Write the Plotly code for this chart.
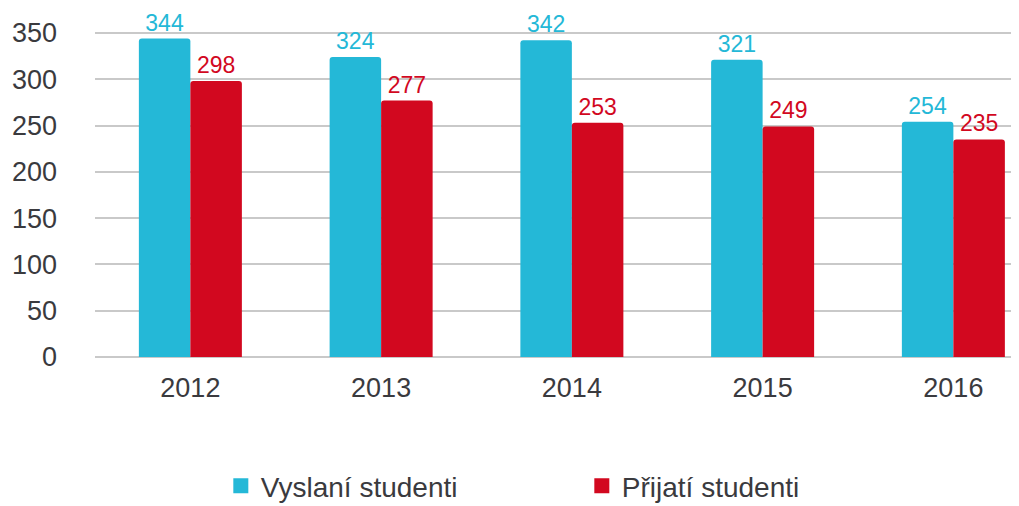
import plotly.graph_objects as go

years = ["2012", "2013", "2014", "2015", "2016"]
vyslani = [344, 324, 342, 321, 254]
prijati = [298, 277, 253, 249, 235]
series_names = ["Vyslaní studenti", "Přijatí studenti"]
y_ticks = [0, 50, 100, 150, 200, 250, 300, 350]

CYAN = "#24B8D7"
RED = "#D2081F"
FONT = "Liberation Sans, Arial, Helvetica, sans-serif"
TXT = "#3a3a3e"

fig = go.Figure()
fig.add_trace(go.Bar(
    x=years, y=vyslani, name=series_names[0], showlegend=False, legendgroup="a",
    marker=dict(color=CYAN, line=dict(width=0)),
    text=[str(v) for v in vyslani], textposition="outside",
    textfont=dict(color=CYAN, size=23, family=FONT), cliponaxis=False,
))
fig.add_trace(go.Bar(
    x=years, y=prijati, name=series_names[1], showlegend=False, legendgroup="b",
    marker=dict(color=RED, line=dict(width=0)),
    text=[str(v) for v in prijati], textposition="outside",
    textfont=dict(color=RED, size=23, family=FONT), cliponaxis=False,
))
# legend entries with larger square swatches
for name, col, grp in [(series_names[0], CYAN, "a"), (series_names[1], RED, "b")]:
    fig.add_trace(go.Scatter(
        x=[years[0]], y=[None], mode="markers", name=name, legendgroup=grp,
        marker=dict(symbol="square", size=15, color=col), hoverinfo="skip",
    ))

fig.update_layout(
    width=1019, height=506,
    margin=dict(l=87, r=0, t=12, b=157, autoexpand=False),
    paper_bgcolor="white", plot_bgcolor="white",
    barmode="group", bargap=0.46, bargroupgap=0, barcornerradius=3,
    font=dict(family=FONT, color=TXT, size=27),
    showlegend=True,
    legend=dict(orientation="h", x=0.135, xanchor="left", y=-0.383, yanchor="middle",
                entrywidth=316, entrywidthmode="pixels",
                font=dict(size=28, color=TXT, family=FONT),
                traceorder="normal", itemsizing="trace"),
)
fig.update_xaxes(
    type="category", range=[-0.5, 4.386], automargin=False,
    showgrid=False, showline=False, zeroline=False,
    ticks="outside", ticklen=7, tickcolor="rgba(0,0,0,0)",
    tickfont=dict(size=27, color=TXT),
)
fig.update_yaxes(
    range=[0, 364], tickvals=y_ticks, automargin=False,
    showgrid=True, gridcolor="#c9c9c9", gridwidth=1.5,
    zeroline=True, zerolinecolor="#c9c9c9", zerolinewidth=1.5,
    showline=False, ticks="", ticklabelstandoff=37,
    tickfont=dict(size=27, color=TXT),
)

fig.write_html("out.html")
